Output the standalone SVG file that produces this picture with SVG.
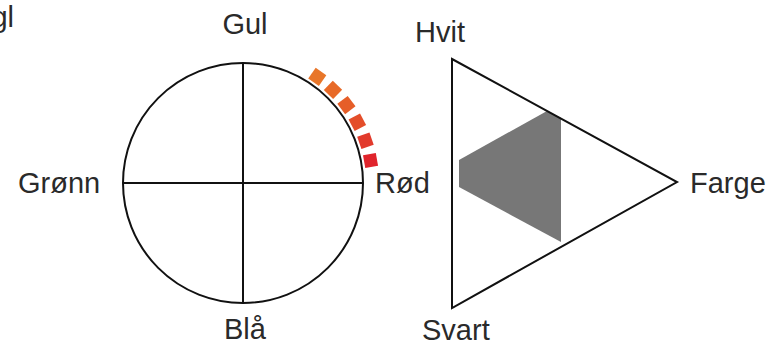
<svg xmlns="http://www.w3.org/2000/svg" width="782" height="348" viewBox="0 0 782 348">
<style>
text{font-family:"Liberation Sans",Arial,sans-serif;font-size:29px;fill:#2a2a2a}
.ln{fill:none;stroke:#111;stroke-width:2}
.sq{width:13px;height:13px}
</style>
<rect width="782" height="348" fill="#fff"/>
<text x="14" y="27" text-anchor="end">gl</text>
<g id="wheel">
<circle class="ln" cx="243" cy="183" r="120"/>
<line class="ln" x1="123" y1="183" x2="363" y2="183"/>
<line class="ln" x1="243" y1="63" x2="243" y2="303"/>
</g>
<g id="arcmarks">
<rect x="366" y="176.5" width="13" height="13" fill="#e8762a" transform="rotate(-55 243 183)"/>
<rect x="366" y="176.5" width="13" height="13" fill="#e86a28" transform="rotate(-46 243 183)"/>
<rect x="366" y="176.5" width="13" height="13" fill="#e65e28" transform="rotate(-37 243 183)"/>
<rect x="366" y="176.5" width="13" height="13" fill="#e44e2a" transform="rotate(-28 243 183)"/>
<rect x="366" y="176.5" width="13" height="13" fill="#e23a2c" transform="rotate(-19 243 183)"/>
<rect x="366" y="176.5" width="13" height="13" fill="#e0242c" transform="rotate(-10 243 183)"/>
</g>
<g id="triangle">
<polygon points="459,160 547,111 561,118 561,242 459,187" fill="#777"/>
<polygon class="ln" points="452,59 677,182 452,308"/>
</g>
<g id="labels">
<text x="245" y="34" text-anchor="middle">Gul</text>
<text x="18" y="193">Grønn</text>
<text x="375" y="193">Rød</text>
<text x="245" y="339" text-anchor="middle">Blå</text>
<text x="415" y="42">Hvit</text>
<text x="690" y="193">Farge</text>
<text x="422" y="340">Svart</text>
</g>
</svg>
